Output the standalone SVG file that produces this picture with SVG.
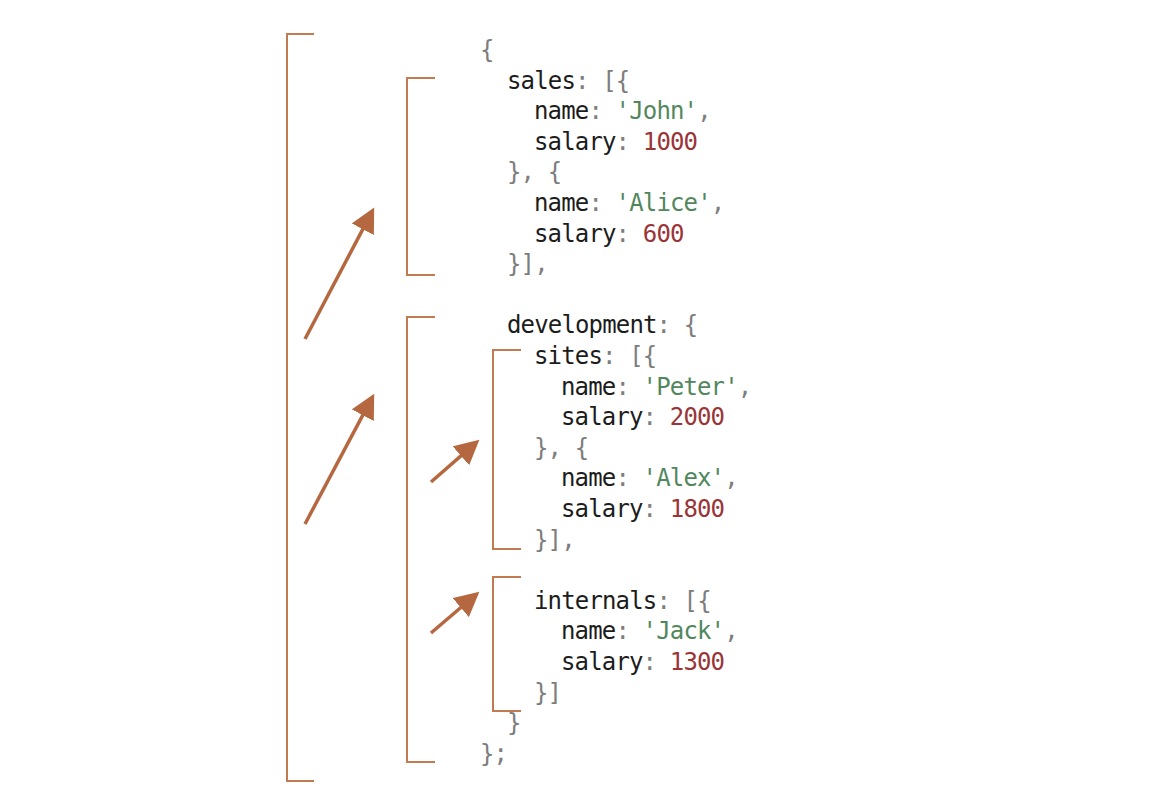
<svg xmlns="http://www.w3.org/2000/svg" width="1166" height="812" viewBox="0 0 1166 812">
<style>
.code{font-family:"DejaVu Sans Mono","Liberation Mono",monospace;font-size:24px;letter-spacing:-0.85px;fill:#1c1c1c}
.p{fill:#7d7d7d}
.s{fill:#52875e}
.n{fill:#9a3437}
.br{fill:none;stroke:#c27b50;stroke-width:2}
.ar{fill:none;stroke:#b5683f;stroke-width:3.5}
</style>
<defs>
<marker id="ah" markerUnits="userSpaceOnUse" markerWidth="25" markerHeight="25" viewBox="0 0 25 25" refX="14" refY="12.5" orient="auto">
<path d="M0,0 L24.5,12.5 L0,25 Z" fill="#b5683f"/>
</marker>
</defs>
<rect width="1166" height="812" fill="#fff"/>
<g id="brackets">
<path class="br" d="M314,34 H287 V781 H314"/>
<path class="br" d="M435,78 H407 V275 H435"/>
<path class="br" d="M435,317 H407 V762 H435"/>
<path class="br" d="M521,350 H493 V549 H521"/>
<path class="br" d="M521,577 H493 V711 H521"/>
</g>
<g id="connectors">
<line class="ar" x1="305" y1="339" x2="369.3" y2="216.9" marker-end="url(#ah)"/>
<line class="ar" x1="305" y1="524" x2="369.3" y2="402.9" marker-end="url(#ah)"/>
<line class="ar" x1="431" y1="482" x2="471.5" y2="446.6" marker-end="url(#ah)"/>
<line class="ar" x1="431" y1="633" x2="471.4" y2="598.5" marker-end="url(#ah)"/>
</g>
<g id="code" class="code" xml:space="preserve">
<text x="480" y="58"><tspan class="p">{</tspan></text>
<text x="507" y="88.6">sales<tspan class="p">: [{</tspan></text>
<text x="534" y="119.2">name<tspan class="p">: </tspan><tspan class="s">'John'</tspan><tspan class="p">,</tspan></text>
<text x="534" y="149.8">salary<tspan class="p">: </tspan><tspan class="n">1000</tspan></text>
<text x="507" y="180.4"><tspan class="p">}, {</tspan></text>
<text x="534" y="211">name<tspan class="p">: </tspan><tspan class="s">'Alice'</tspan><tspan class="p">,</tspan></text>
<text x="534" y="241.6">salary<tspan class="p">: </tspan><tspan class="n">600</tspan></text>
<text x="507" y="272.2"><tspan class="p">}],</tspan></text>
<text x="507" y="333.4">development<tspan class="p">: {</tspan></text>
<text x="534" y="364">sites<tspan class="p">: [{</tspan></text>
<text x="561" y="394.6">name<tspan class="p">: </tspan><tspan class="s">'Peter'</tspan><tspan class="p">,</tspan></text>
<text x="561" y="425.2">salary<tspan class="p">: </tspan><tspan class="n">2000</tspan></text>
<text x="534" y="455.8"><tspan class="p">}, {</tspan></text>
<text x="561" y="486.4">name<tspan class="p">: </tspan><tspan class="s">'Alex'</tspan><tspan class="p">,</tspan></text>
<text x="561" y="517">salary<tspan class="p">: </tspan><tspan class="n">1800</tspan></text>
<text x="534" y="547.6"><tspan class="p">}],</tspan></text>
<text x="534" y="608.8">internals<tspan class="p">: [{</tspan></text>
<text x="561" y="639.4">name<tspan class="p">: </tspan><tspan class="s">'Jack'</tspan><tspan class="p">,</tspan></text>
<text x="561" y="670">salary<tspan class="p">: </tspan><tspan class="n">1300</tspan></text>
<text x="534" y="700.6"><tspan class="p">}]</tspan></text>
<text x="507" y="731.2"><tspan class="p">}</tspan></text>
<text x="480" y="761.8"><tspan class="p">};</tspan></text>
</g>
</svg>
